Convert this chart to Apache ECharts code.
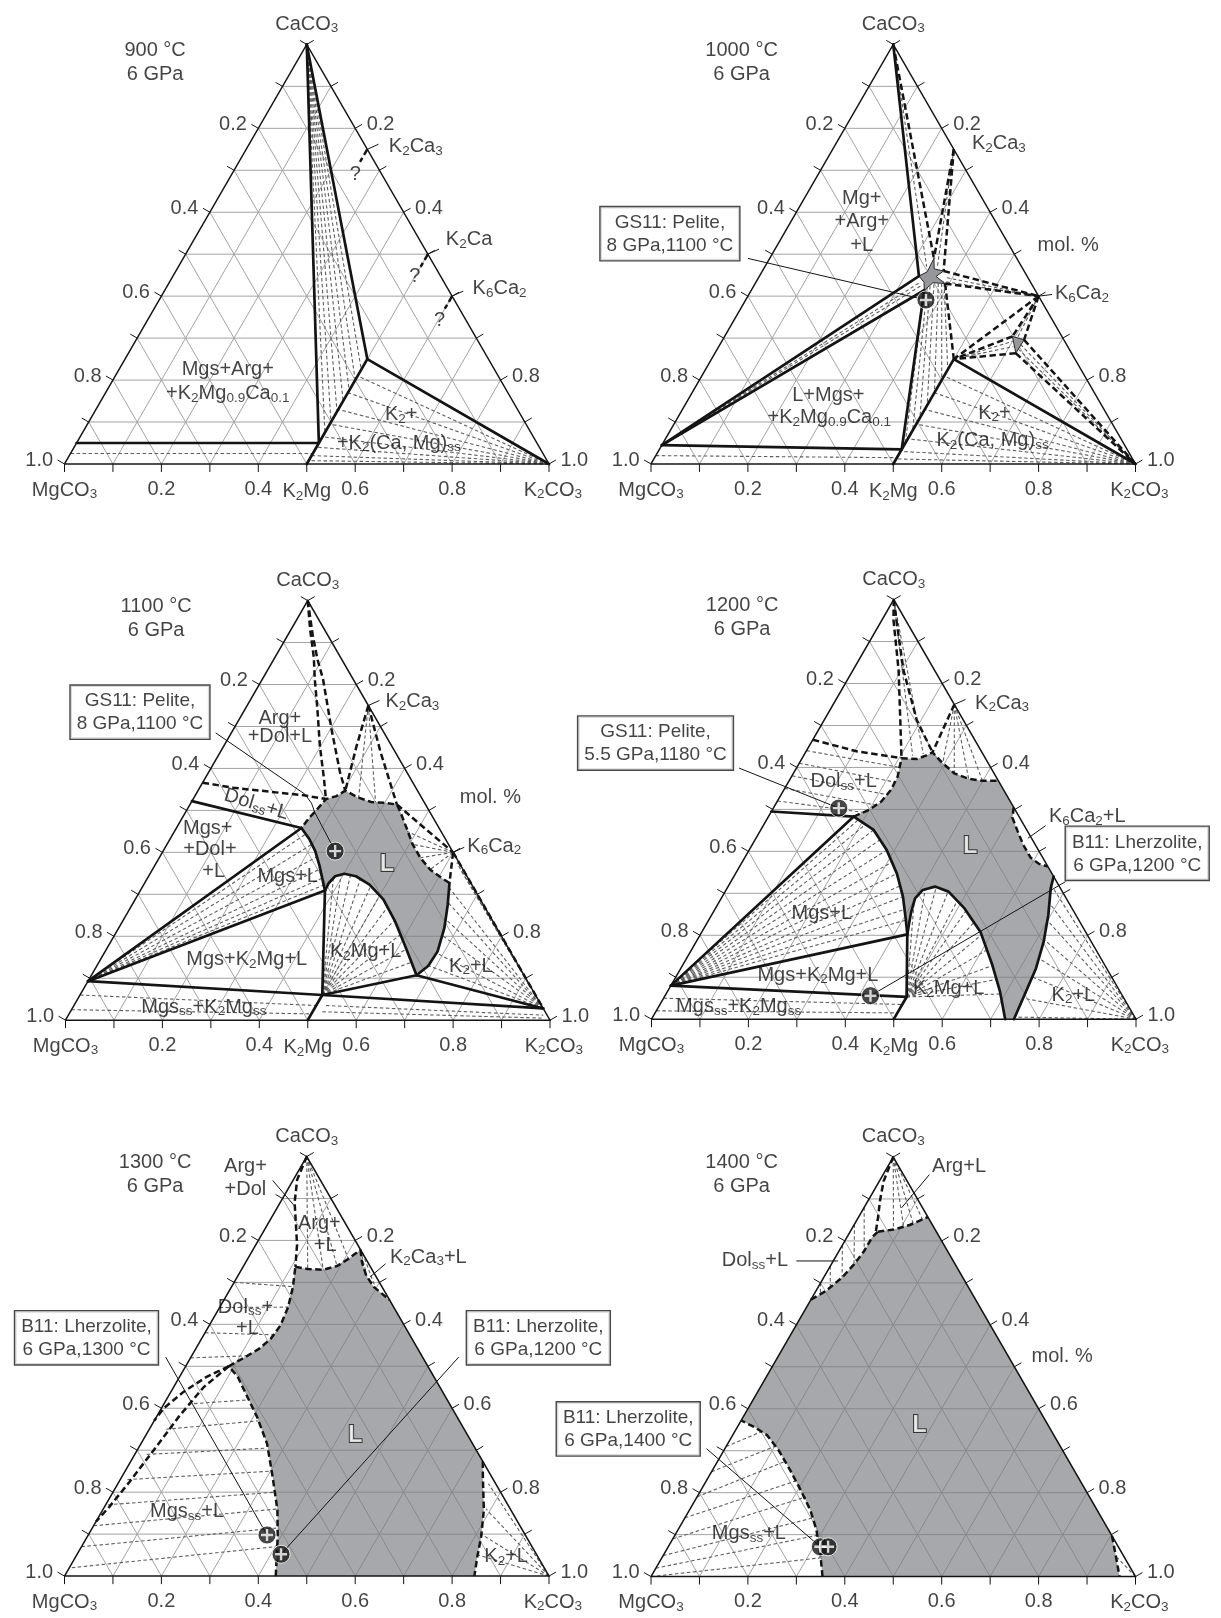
<!DOCTYPE html>
<html>
<head>
<meta charset="utf-8">
<title>K2CO3–MgCO3–CaCO3 at 6 GPa</title>
<script src="https://cdn.jsdelivr.net/npm/echarts@6/dist/echarts.min.js"></script>
<style>
html,body{margin:0;padding:0;background:#fff;}
#chart{width:1221px;height:1618px;}
</style>
</head>
<body>
<div id="chart"></div>
<script>
// ===== compositions are [K2CO3, CaCO3] mole fractions (MgCO3 = 1 - both) =====
const temps = ['900 °C', '1000 °C', '1100 °C', '1200 °C', '1300 °C', '1400 °C'];
const pressure = '6 GPa';
const bottomTicks = [0.2, 0.4, 0.6, 0.8];
const leftTicks = [0.2, 0.4, 0.6, 0.8, 1.0];
const rightTicksUpper = [0.2, 0.4, 0.8, 1.0];        // 0.6 replaced by compound labels / box
const rightTicksLower = [0.2, 0.4, 0.6, 0.8, 1.0];

// ---------- 900 °C ----------
const p1Solid = [
  [[0,1],[0.5,0.05]],
  [[0,1],[0.5,0.25]],
  [[0,0.05],[0.5,0.05]],
  [[0.5,0],[0.5,0.25],[1,0]]
];
const p1Dash = [
  [[0.25,0.75],[0.25,0.72]],
  [[0.5,0.5],[0.5,0.47]],
  [[0.6,0.4],[0.6,0.37]]
];
const p1Tie = [
  [[0,1],[0.5,0.075]],[[0,1],[0.5,0.1]],[[0,1],[0.5,0.125]],[[0,1],[0.5,0.15]],
  [[0,1],[0.5,0.175]],[[0,1],[0.5,0.2]],[[0,1],[0.5,0.225]],
  [[0,0.025],[0.5,0.025]],
  [[1,0],[0.5,0.21]],[[1,0],[0.5,0.17]],[[1,0],[0.5,0.13]],[[1,0],[0.5,0.095]],
  [[1,0],[0.5,0.065]],[[1,0],[0.5,0.04]],[[1,0],[0.5,0.02]],[[1,0],[0.5,0.008]]
];

// ---------- 1000 °C ----------
const p2Liquid = [[0.339,0.49],[0.352,0.465],[0.374,0.46],[0.365,0.447],[0.392,0.43],[0.366,0.432],
  [0.357,0.414],[0.347,0.433],[0.329,0.448],[0.341,0.458]];
const p2Liquid2 = [[0.594,0.304],[0.622,0.296],[0.621,0.264]];
const p2Solid = [
  [[0,1],[0.329,0.448]],
  [[0,0.045],[0.329,0.448]],
  [[0,0.045],[0.357,0.414]],
  [[0,0.045],[0.5,0.035]],
  [[0.5,0.035],[0.357,0.414]],
  [[0.5,0],[0.5,0.25],[1,0]]
];
const p2Dash = [
  [[0,1],[0.339,0.49]],
  [[0.25,0.75],[0.339,0.49]],
  [[0.25,0.75],[0.374,0.46]],
  [[0.374,0.46],[0.6,0.4]],
  [[0.392,0.43],[0.6,0.4]],
  [[0.392,0.43],[0.5,0.25]],
  [[0.6,0.4],[0.5,0.25]],
  [[0.6,0.4],[0.594,0.304]],
  [[0.6,0.4],[0.622,0.296]],
  [[0.594,0.304],[0.5,0.25]],
  [[0.621,0.264],[0.5,0.25]],
  [[0.622,0.296],[1,0]],
  [[0.621,0.264],[1,0]]
];
const p2Tie = [
  [[0,1],[0.334,0.47]],
  [[0.25,0.75],[0.356,0.47]],
  [[0.6,0.4],[0.383,0.445]],[[0.6,0.4],[0.38,0.436]],
  [[0,0.045],[0.338,0.432]],[[0,0.045],[0.344,0.424]],
  [[0.357,0.414],[0.5,0.05]],[[0.36,0.42],[0.5,0.08]],[[0.364,0.424],[0.5,0.11]],
  [[0.37,0.428],[0.5,0.14]],[[0.378,0.43],[0.5,0.17]],[[0.385,0.43],[0.5,0.2]],[[0.39,0.43],[0.5,0.225]],
  [[1,0],[0.5,0.21]],[[1,0],[0.5,0.17]],[[1,0],[0.5,0.13]],[[1,0],[0.5,0.095]],
  [[1,0],[0.5,0.06]],[[1,0],[0.5,0.03]],[[1,0],[0.5,0.012]],
  [[0,0.02],[0.5,0.015]],
  [[0.5,0.25],[0.6,0.292]],[[0.5,0.25],[0.608,0.28]],
  [[0.6,0.4],[0.606,0.3]],
  [[0.62,0.285],[1,0]],[[0.621,0.274],[1,0]]
];
const p2Mark = [[0.372,0.391]];

// ---------- 1100 °C ----------
const p3MgsLiq = [[0.258,0.458],[0.288,0.431],[0.314,0.403],[0.341,0.367],[0.363,0.335],[0.381,0.309]];
const p3K2MgLiq = [[0.381,0.309],[0.380,0.327],[0.385,0.343],[0.401,0.349],[0.428,0.343],[0.466,0.323],
  [0.512,0.288],[0.562,0.236],[0.610,0.180],[0.646,0.137],[0.671,0.107]];
const p3K2Liq = [[0.671,0.107],[0.684,0.129],[0.686,0.164],[0.672,0.220],[0.651,0.276],[0.629,0.327]];
const p3TopLiq = [[0.629,0.327],[0.607,0.339],[0.573,0.359],[0.539,0.387],[0.507,0.419],[0.475,0.458],
  [0.445,0.494],[0.427,0.514],[0.401,0.518],[0.371,0.520],[0.338,0.531],[0.304,0.547],[0.292,0.534],
  [0.274,0.527],[0.268,0.502],[0.262,0.482],[0.258,0.458]];
const p3Solid = [
  [[0,0.093],[0.5,0.06],[0.972,0.028]],
  [[0.5,0],[0.5,0.06]],
  [[0.5,0.06],[0.381,0.309]],
  [[0,0.093],[0.381,0.309]],
  [[0,0.093],[0.258,0.458]],
  [[0,0.522],[0.258,0.458]],
  [[0.5,0.06],[0.671,0.107]],
  [[0.671,0.107],[0.972,0.028]]
];
const p3Dash = [
  [[0,1],[0.04,0.93],[0.08,0.865],[0.108,0.813],[0.15,0.74],[0.198,0.654],[0.246,0.575],[0.274,0.527]],
  [[0,1],[0.05,0.92],[0.09,0.86],[0.125,0.813],[0.202,0.694],[0.271,0.591],[0.304,0.547]],
  [[0.25,0.75],[0.275,0.65],[0.304,0.547]],
  [[0.25,0.75],[0.33,0.64],[0.427,0.514]],
  [[0.427,0.514],[0.6,0.4]],
  [[0.6,0.4],[0.629,0.327]],
  [[0.6,0.4],[0.972,0.028]],
  [[0,0.566],[0.069,0.554],[0.154,0.544],[0.223,0.536],[0.274,0.527]]
];
const p3Tie = [
  [[0,0.093],[0.275,0.445]],[[0,0.093],[0.3,0.42]],[[0,0.093],[0.325,0.39]],
  [[0,0.093],[0.345,0.36]],[[0,0.093],[0.36,0.338]],[[0,0.093],[0.372,0.322]],
  [[0.5,0.06],[0.383,0.34]],[[0.5,0.06],[0.395,0.348]],[[0.5,0.06],[0.415,0.347]],[[0.5,0.06],[0.44,0.338]],
  [[0.5,0.06],[0.47,0.32]],[[0.5,0.06],[0.5,0.297]],[[0.5,0.06],[0.53,0.27]],[[0.5,0.06],[0.56,0.238]],
  [[0.5,0.06],[0.59,0.205]],[[0.5,0.06],[0.62,0.17]],[[0.5,0.06],[0.645,0.138]],
  [[0.972,0.028],[0.684,0.13]],[[0.972,0.028],[0.686,0.16]],[[0.972,0.028],[0.68,0.2]],
  [[0.972,0.028],[0.665,0.24]],[[0.972,0.028],[0.65,0.28]],[[0.972,0.028],[0.635,0.315]],
  [[0.972,0.028],[0.62,0.375]],[[0.972,0.028],[0.64,0.355]],
  [[0.6,0.4],[0.573,0.359]],[[0.6,0.4],[0.539,0.387]],[[0.6,0.4],[0.507,0.419]],[[0.6,0.4],[0.48,0.45]],
  [[0.25,0.75],[0.34,0.53]],[[0.25,0.75],[0.38,0.52]],
  [[0,0.06],[0.5,0.035]],[[0,0.025],[0.5,0.015]],
  [[0.52,0.035],[0.98,0.012]],[[0.52,0.02],[0.98,0.005]]
];
const p3Mark = [[0.355,0.403]];

// ---------- 1200 °C ----------
const p4MgsLiq = [[0.176,0.483],[0.233,0.451],[0.284,0.403],[0.333,0.347],[0.373,0.292],[0.407,0.236],[0.427,0.202]];
const p4Bubble = [[0.427,0.202],[0.419,0.224],[0.408,0.256],[0.400,0.288],[0.406,0.308],[0.427,0.316],
  [0.461,0.304],[0.514,0.264],[0.575,0.208],[0.639,0.129],[0.687,0.065],[0.73,0]];
const p4K2Liq = [[0.66,0.34],[0.668,0.312],[0.695,0.248],[0.717,0.185],[0.733,0.121],[0.740,0.065],[0.748,0]];
const p4TopLiq = [[0.176,0.483],[0.200,0.499],[0.215,0.519],[0.221,0.547],[0.219,0.578],[0.205,0.622],
  [0.238,0.620],[0.252,0.628],[0.262,0.636],[0.296,0.610],[0.332,0.586],[0.368,0.573],[0.399,0.568],[0.432,0.568]];
const p4Pocket = [[0.495,0.505],[0.505,0.48],[0.53,0.45],[0.56,0.415],[0.59,0.385],[0.615,0.37],[0.636,0.364]];
const p4Solid = [
  [[0,0.08],[0.5,0.053]],
  [[0.5,0],[0.5,0.053],[0.427,0.202]],
  [[0,0.08],[0.427,0.202]],
  [[0,0.08],[0.176,0.483]],
  [[0,0.495],[0.176,0.483]]
];
const p4Dash = [
  [[0,0.666],[0.106,0.638],[0.205,0.622]],
  [[0,1],[0.024,0.951],[0.094,0.832],[0.157,0.713],[0.205,0.622]],
  [[0,1],[0.03,0.951],[0.104,0.832],[0.191,0.713],[0.262,0.636]],
  [[0.25,0.75],[0.262,0.636]]
];
const p4Tie = [
  [[0,0.08],[0.19,0.477]],[[0,0.08],[0.21,0.465]],[[0,0.08],[0.233,0.451]],[[0,0.08],[0.258,0.428]],
  [[0,0.08],[0.284,0.403]],[[0,0.08],[0.31,0.375]],[[0,0.08],[0.333,0.347]],[[0,0.08],[0.355,0.318]],
  [[0,0.08],[0.373,0.292]],[[0,0.08],[0.392,0.262]],[[0,0.08],[0.407,0.236]],
  [[0,0.64],[0.212,0.6]],[[0,0.61],[0.22,0.565]],[[0,0.58],[0.219,0.535]],[[0,0.55],[0.21,0.51]],[[0,0.52],[0.19,0.493]],
  [[0.25,0.75],[0.296,0.61]],[[0.25,0.75],[0.332,0.586]],[[0.25,0.75],[0.368,0.573]],[[0.25,0.75],[0.399,0.568]],
  [[0,1],[0.225,0.628]],[[0,1],[0.245,0.632]],
  [[0.5,0.053],[0.402,0.28]],[[0.5,0.053],[0.41,0.31]],[[0.5,0.053],[0.43,0.316]],[[0.5,0.053],[0.46,0.304]],
  [[0.5,0.053],[0.49,0.283]],[[0.5,0.053],[0.52,0.26]],[[0.5,0.053],[0.55,0.23]],[[0.5,0.053],[0.58,0.2]],
  [[0.5,0.053],[0.61,0.165]],[[0.5,0.053],[0.64,0.128]],[[0.5,0.053],[0.665,0.095]],[[0.5,0.053],[0.69,0.06]],
  [[1,0],[0.748,0.005]],[[1,0],[0.742,0.05]],[[1,0],[0.737,0.1]],[[1,0],[0.727,0.145]],
  [[1,0],[0.715,0.19]],[[1,0],[0.7,0.235]],[[1,0],[0.685,0.275]],[[1,0],[0.67,0.315]],
  [[0,0.05],[0.5,0.035]],[[0,0.02],[0.5,0.015]]
];
const p4Mark = [[0.135,0.503],[0.424,0.056]];

// ---------- 1300 °C ----------
const p5LeftLiq = [[0.436,0],[0.415,0.046],[0.393,0.094],[0.361,0.157],[0.311,0.237],[0.260,0.316],[0.208,0.379],
  [0.164,0.427],[0.120,0.475],[0.089,0.500],[0.112,0.522],[0.131,0.542],[0.143,0.566],[0.147,0.598],
  [0.141,0.641],[0.127,0.689],[0.108,0.737]];
const p5TopLiq = [[0.108,0.737],[0.136,0.732],[0.169,0.730],[0.193,0.739],[0.208,0.756],[0.222,0.778]];
const p5Pocket = [[0.222,0.778],[0.240,0.748],[0.264,0.717],[0.294,0.689],[0.342,0.658]];
const p5RightLiq = [[0.727,0.273],[0.745,0.237],[0.787,0.157],[0.813,0.094],[0.829,0.046],[0.846,0]];
const p5Dash = [
  [[0,1],[0.008,0.944],[0.03,0.89],[0.057,0.841],[0.085,0.79],[0.108,0.737]],
  [[0.089,0.5],[0.056,0.475],[0.026,0.439],[0.005,0.40],[0,0.37]],
  [[0.089,0.5],[0.062,0.45],[0.046,0.38],[0.034,0.3],[0.022,0.225],[0.01,0.165],[0,0.13]]
];
const p5Tie = [
  [[0.005,0.02],[0.400,0.07]],[[0,0.07],[0.385,0.115]],[[0,0.12],[0.36,0.16]],[[0.005,0.17],[0.335,0.2]],
  [[0.015,0.23],[0.30,0.25]],[[0.025,0.29],[0.265,0.305]],[[0.035,0.35],[0.215,0.37]],[[0.05,0.41],[0.17,0.42]],
  [[0,0.52],[0.115,0.525]],[[0,0.58],[0.145,0.575]],[[0,0.64],[0.141,0.641]],[[0,0.7],[0.125,0.69]],
  [[0,1],[0.136,0.732]],[[0,1],[0.169,0.73]],[[0,1],[0.193,0.739]],[[0,1],[0.208,0.756]],
  [[0.222,0.778],[0.27,0.71]],[[0.23,0.77],[0.3,0.685]],
  [[1,0],[0.83,0.05]],[[1,0],[0.81,0.1]],[[1,0],[0.79,0.16]],[[1,0],[0.765,0.22]]
];
const p5Mark = [[0.369,0.098],[0.421,0.052]];

// ---------- 1400 °C ----------
const p6LeftLiq = [[0.354,0],[0.326,0.048],[0.286,0.111],[0.250,0.158],[0.206,0.206],[0.161,0.253],
  [0.113,0.301],[0.071,0.337],[0.036,0.356],[0,0.372]];
const p6DolLiq = [[0,0.66],[0.021,0.681],[0.038,0.713],[0.047,0.744],[0.052,0.776],[0.052,0.808],[0.057,0.822]];
const p6TopLiq = [[0.057,0.822],[0.087,0.827],[0.115,0.838],[0.133,0.850],[0.143,0.857]];
const p6RightLiq = [[0.903,0.097],[0.931,0.055],[0.967,0]];
const p6Dash = [
  [[0,1],[0.009,0.942],[0.025,0.895],[0.041,0.855],[0.053,0.822]]
];
const p6Tie = [
  [[0,1],[0.087,0.827]],[[0,1],[0.105,0.833]],[[0,1],[0.12,0.842]],[[0,1],[0.135,0.851]],
  [[0,0.88],[0.052,0.776]],[[0,0.84],[0.047,0.744]],[[0,0.79],[0.038,0.713]],[[0,0.74],[0.025,0.69]],[[0,0.70],[0.012,0.675]],
  [[0,0],[0.33,0.045]],[[0,0.02],[0.3,0.1]],[[0,0.05],[0.265,0.14]],[[0,0.09],[0.225,0.19]],
  [[0,0.14],[0.185,0.228]],[[0,0.19],[0.14,0.275]],[[0,0.25],[0.1,0.31]],[[0,0.31],[0.055,0.345]],
  [[1,0],[0.94,0.045]]
];
const p6Mark = [[0.314,0.071],[0.330,0.071]];

// ===== annotations: [text, x-fraction of side, height-fraction (CaCO3 level), options] =====
const LIQ = {liq: true};
const p1Text = [
  ['Mgs+Arg+', 0.337, 0.225], ['+K[2]Mg[0.9]Ca[0.1]', 0.337, 0.168],
  ['K[2]+', 0.695, 0.117], ['+K[2](Ca, Mg)[ss]', 0.69, 0.05],
  ['K[2]Ca[3]', 0.725, 0.757], ['K[2]Ca', 0.835, 0.535], ['K[6]Ca[2]', 0.898, 0.418],
  ['?', 0.600, 0.690], ['?', 0.723, 0.446], ['?', 0.774, 0.343]
];
const p2Text = [
  ['Mg+', 0.435, 0.633], ['+Arg+', 0.435, 0.577], ['+L', 0.435, 0.521],
  ['L+Mgs+', 0.366, 0.164], ['+K[2]Mg[0.9]Ca[0.1]', 0.368, 0.111],
  ['K[2]+', 0.709, 0.121], ['K[2](Ca, Mg)[ss]', 0.705, 0.055],
  ['K[2]Ca[3]', 0.718, 0.763], ['K[6]Ca[2]', 0.8895, 0.406], ['mol. %', 0.861, 0.521]
];
const p3Text = [
  ['Arg+', 0.4425, 0.720], ['+Dol+L', 0.4425, 0.677],
  ['Dol[ss]+L', 0.394, 0.514, {rotate: -17}],
  ['Mgs+', 0.2936, 0.458], ['+Dol+', 0.298, 0.407], ['+L', 0.3057, 0.355],
  ['Mgs+L', 0.4586, 0.343], ['L', 0.6637, 0.371, LIQ],
  ['Mgs+K[2]Mg+L', 0.3741, 0.145], ['K[2]Mg+L', 0.6195, 0.164], ['K[2]+L', 0.8367, 0.129],
  ['Mgs[ss]+K[2]Mg[ss]', 0.2856, 0.031],
  ['K[2]Ca[3]', 0.716, 0.760], ['K[6]Ca[2]', 0.885, 0.4146], ['mol. %', 0.877, 0.530]
];
const p4Text = [
  ['K[2]Ca[3]', 0.7236, 0.7534], ['Dol[ss]+L', 0.3966, 0.5664], ['K[6]Ca[2]+L', 0.8994, 0.4829],
  ['L', 0.6582, 0.4113, LIQ], ['Mgs+L', 0.3516, 0.2522], ['Mgs+K[2]Mg+L', 0.3434, 0.105],
  ['K[2]Mg+L', 0.6132, 0.0732], ['K[2]+L', 0.8708, 0.0573], ['Mgs[ss]+K[2]Mg[ss]', 0.1799, 0.0294]
];
const p5Text = [
  ['Arg+\n+Dol', 0.3735, 0.949], ['Arg+', 0.5261, 0.8397], ['+L', 0.5382, 0.7881],
  ['K[2]Ca[3]+L', 0.751, 0.7603], ['Dol[ss]+', 0.3735, 0.6413], ['+L', 0.3775, 0.5897],
  ['L', 0.6, 0.3357, LIQ], ['Mgs[ss]+L', 0.253, 0.1532], ['K[2]+L', 0.9116, 0.046]
];
const p6Text = [
  ['Arg+L', 0.6358, 0.9778], ['Dol[ss]+L', 0.2144, 0.7522], ['mol. %', 0.8486, 0.5241],
  ['L', 0.554, 0.3603, LIQ], ['Mgs[ss]+L', 0.2021, 0.1029]
];
const p2Box = [['GS11: Pelite,\n8 GPa,1100 °C', 0.039, 0.549]];
const p3Box = [['GS11: Pelite,\n8 GPa,1100 °C', 0.1537, 0.734]];
const p4Box = [['GS11: Pelite,\n5.5 GPa,1180 °C', 0.0083, 0.658], ['B11: Lherzolite,\n6 GPa,1200 °C', 1.0025, 0.3954]];
const p5Box = [['B11: Lherzolite,\n6 GPa,1300 °C', 0.0454, 0.5679], ['B11: Lherzolite,\n6 GPa,1200 °C', 0.978, 0.5679]];
const p6Box = [['B11: Lherzolite,\n6 GPa,1400 °C', -0.047, 0.352]];
const p1Lead = [[[0.625,0.75],[0.648,0.762]], [[0.75,0.5],[0.773,0.512]], [[0.8,0.4],[0.823,0.412]]];
const p2Lead = [[[0.200,0.49],[0.5675,0.391]], [[0.8,0.4],[0.828,0.404]]];
const p3Lead = [[[0.31,0.6847],[0.4939,0.5388],[0.5077,0.5173],[0.5146,0.4951],[0.5565,0.403]],
  [[0.625,0.75],[0.648,0.762]], [[0.8,0.4],[0.823,0.412]]];
const p4Lead = [[[0.1807,0.5985],[0.3865,0.503]], [[0.8545,0.3278],[0.452,0.056]],
  [[0.8136,0.4614],[0.7768,0.4312]], [[0.625,0.75],[0.648,0.762]]];
const p5Lead = [[[0.2088,0.522],[0.418,0.098]], [[0.8137,0.522],[0.447,0.052]],
  [[0.4297,0.9429],[0.4739,0.8833]], [[0.6627,0.7444],[0.6305,0.7127]]];
const p6Lead = [[[0.1146,0.3048],[0.3495,0.071]], [[0.5745,0.958],[0.5172,0.8789]], [[0.30,0.7522],[0.386,0.7522]]];

// ===== layout =====
const SQ = Math.sqrt(3) / 2;
const SIDE = 484.5;
const GRID_POS = [[64.5, 44.4], [651, 44.4], [65.5, 600.6], [651.5, 599.6], [64.5, 1156.5], [651, 1157]];
const FONT = 'Liberation Sans, Arial, Helvetica, sans-serif';
const INK = '#141414';
const tc = p => [p[0] + p[1] / 2, p[1] * SQ];   // ternary -> plot
const fc = p => [p[0], p[1] * SQ];              // placement -> plot
const ident = p => p;
const fmt = s => s.replace(/\[([^\]]+)\]/g, '{s|$1}');

const panels = [
  {solid: p1Solid, dash: p1Dash, tie: p1Tie, fill: [], text: p1Text, box: [], lead: p1Lead, mark: [], k2mg: true, right: rightTicksUpper},
  {solid: p2Solid, dash: p2Dash, tie: p2Tie, fill: [p2Liquid, p2Liquid2], fillStroke: true, text: p2Text, box: p2Box, lead: p2Lead, mark: p2Mark, k2mg: true, right: rightTicksUpper},
  {solid: p3Solid.concat([p3MgsLiq, p3K2MgLiq, p3K2Liq]), dash: p3Dash.concat([p3TopLiq]), tie: p3Tie,
   fill: [p3MgsLiq.concat(p3K2MgLiq, p3K2Liq, p3TopLiq)], text: p3Text, box: p3Box, lead: p3Lead, mark: p3Mark, k2mg: true, right: rightTicksUpper},
  {solid: p4Solid.concat([p4MgsLiq, p4Bubble, p4K2Liq]), dash: p4Dash.concat([p4TopLiq, p4Pocket]), tie: p4Tie,
   fill: [p4TopLiq.concat(p4Pocket, p4K2Liq, p4Bubble.slice().reverse(), p4MgsLiq.slice().reverse())],
   text: p4Text, box: p4Box, lead: p4Lead, mark: p4Mark, k2mg: true, right: rightTicksUpper},
  {solid: [], dash: p5Dash.concat([p5LeftLiq, p5TopLiq, p5Pocket, p5RightLiq]), tie: p5Tie,
   fill: [p5LeftLiq.concat(p5TopLiq, p5Pocket, p5RightLiq)], text: p5Text, box: p5Box, lead: p5Lead, mark: p5Mark, k2mg: false, right: rightTicksLower},
  {solid: [], dash: p6Dash.concat([p6LeftLiq, p6DolLiq, p6TopLiq, p6RightLiq]), tie: p6Tie,
   fill: [p6LeftLiq.concat(p6DolLiq, p6TopLiq, p6RightLiq)], text: p6Text, box: p6Box, lead: p6Lead, mark: p6Mark, k2mg: false, right: rightTicksLower}
];

// ternary grid, frame and ticks
const gridSegs = [];
for (let i = 1; i < 10; i++) {
  const v = i / 10;
  gridSegs.push([[0, v], [1 - v, v]]);
  gridSegs.push([[v, 0], [v, 1 - v]]);
  gridSegs.push([[1 - v, 0], [0, 1 - v]]);
}
const frame = [[[0,0],[1,0],[0,1],[0,0]]];
const TL = 8 / SIDE;
const tickSegs = [];
const leftEnd = v => { const p = tc([0, 1 - v]); return [p[0] - TL * SQ, p[1] + TL * 0.5]; };
const rightEnd = v => { const p = tc([v, 1 - v]); return [p[0] + TL * SQ, p[1] + TL * 0.5]; };
for (let i = 0; i <= 10; i++) {
  const v = i / 10;
  tickSegs.push([[v, 0], [v, -TL]]);
  tickSegs.push([tc([0, 1 - v]), leftEnd(v)]);
  tickSegs.push([tc([v, 1 - v]), rightEnd(v)]);
}

function linesSeries(i, segs, style, z, conv) {
  return {
    type: 'lines', coordinateSystem: 'cartesian2d', xAxisIndex: i, yAxisIndex: i,
    polyline: true, silent: true, animation: false, z: z, clip: false,
    lineStyle: Object.assign({opacity: 1}, style),
    data: segs.map(s => ({coords: s.map(conv)}))
  };
}

const series = [];
panels.forEach((P, i) => {
  series.push(linesSeries(i, gridSegs, {color: '#a3a3a3', width: 1}, 1, tc));
  if (P.fill.length) {
    series.push({
      type: 'custom', coordinateSystem: 'cartesian2d', xAxisIndex: i, yAxisIndex: i,
      silent: true, animation: false, z: 2,
      renderItem: (params, api) => ({
        type: 'polygon',
        shape: {points: P.fill[params.dataIndex].map(p => api.coord(tc(p)))},
        style: P.fillStroke ? {fill: 'rgb(150,151,155)', stroke: '#2a2a2a', lineWidth: 1}
                            : {fill: 'rgba(122,123,128,0.66)'}
      }),
      data: P.fill.map(() => [0.5, 0.3])
    });
  }
  series.push(linesSeries(i, P.tie, {color: '#5e5e5e', width: 1.1, type: [3.5, 2.5]}, 3, tc));
  if (P.solid.length) series.push(linesSeries(i, P.solid, {color: INK, width: 2.7, cap: 'round', join: 'round'}, 4, tc));
  series.push(linesSeries(i, P.dash, {color: INK, width: 2.5, type: [6.5, 3.5]}, 4, tc));
  series.push(linesSeries(i, frame, {color: INK, width: 1.5}, 5, tc));
  series.push(linesSeries(i, tickSegs, {color: INK, width: 1}, 5, ident));
  series.push(linesSeries(i, P.lead, {color: INK, width: 1}, 5, fc));
  if (P.mark.length) {
    series.push({
      type: 'scatter', xAxisIndex: i, yAxisIndex: i, silent: true, animation: false, z: 6, clip: false,
      symbol: 'circle', symbolSize: 18,
      itemStyle: {color: '#161616', borderColor: '#fff', borderWidth: 1},
      data: P.mark.map(tc)
    });
    series.push({
      type: 'scatter', xAxisIndex: i, yAxisIndex: i, silent: true, animation: false, z: 7, clip: false,
      symbol: 'path://M4,0H6V4H10V6H6V10H4V6H0V4H4Z', symbolSize: 12,
      itemStyle: {color: '#fff'},
      data: P.mark.map(tc)
    });
  }
  // labels
  const items = [];
  const add = (text, pos, extra) => items.push({value: pos, label: Object.assign({formatter: fmt(text)}, extra || {})});
  add('CaCO[3]', fc([0.5, 1.048]));
  add('MgCO[3]', fc([0.0, -0.062]));
  add('K[2]CO[3]', fc([1.008, -0.062]));
  if (P.k2mg) add('K[2]Mg', fc([0.5, -0.066]));
  bottomTicks.forEach(v => add(v.toFixed(1), [v, -TL], {position: 'bottom', distance: 5}));
  leftTicks.forEach(v => add(v.toFixed(1), leftEnd(v), {position: 'left', distance: 4, offset: [0, -3]}));
  P.right.forEach(v => add(v.toFixed(1), rightEnd(v), {position: 'right', distance: 4, offset: [0, -3]}));
  add(temps[i] + '\n' + pressure, fc([0.187, 0.958]), {lineHeight: 24});
  P.text.forEach(t => {
    const o = t[3] || {};
    if (o.liq) add(t[0], fc([t[1], t[2]]), {color: '#fff', fontSize: 23, fontWeight: 'bold', textBorderColor: '#1a1a1a', textBorderWidth: 2});
    else if (o.rotate) add(t[0], fc([t[1], t[2]]), {rotate: o.rotate});
    else add(t[0], fc([t[1], t[2]]));
  });
  P.box.forEach(b => add(b[0], fc([b[1], b[2]]), {
    fontSize: 19, lineHeight: 23, backgroundColor: '#fff', borderColor: '#1a1a1a', borderWidth: 1.4, padding: [4, 6, 3, 6]
  }));
  series.push({
    type: 'scatter', xAxisIndex: i, yAxisIndex: i, silent: true, animation: false, z: 8, clip: false,
    symbolSize: 1, itemStyle: {color: 'rgba(0,0,0,0)'},
    label: {
      show: true, position: 'inside', fontFamily: FONT, fontSize: 20, lineHeight: 23, color: INK,
      rich: {s: {fontSize: 13.5, lineHeight: 12, verticalAlign: 'bottom', fontFamily: FONT}}
    },
    labelLayout: {hideOverlap: false},
    data: items
  });
});

const chart = echarts.init(document.getElementById('chart'), null, {renderer: 'canvas'});
chart.setOption({
  animation: false,
  backgroundColor: '#fff',
  grid: GRID_POS.map(g => ({left: g[0], top: g[1], width: SIDE, height: SIDE * SQ, containLabel: false})),
  xAxis: GRID_POS.map((g, i) => ({type: 'value', gridIndex: i, min: 0, max: 1, show: false})),
  yAxis: GRID_POS.map((g, i) => ({type: 'value', gridIndex: i, min: 0, max: SQ, show: false})),
  series: series
});
</script>
</body>
</html>
